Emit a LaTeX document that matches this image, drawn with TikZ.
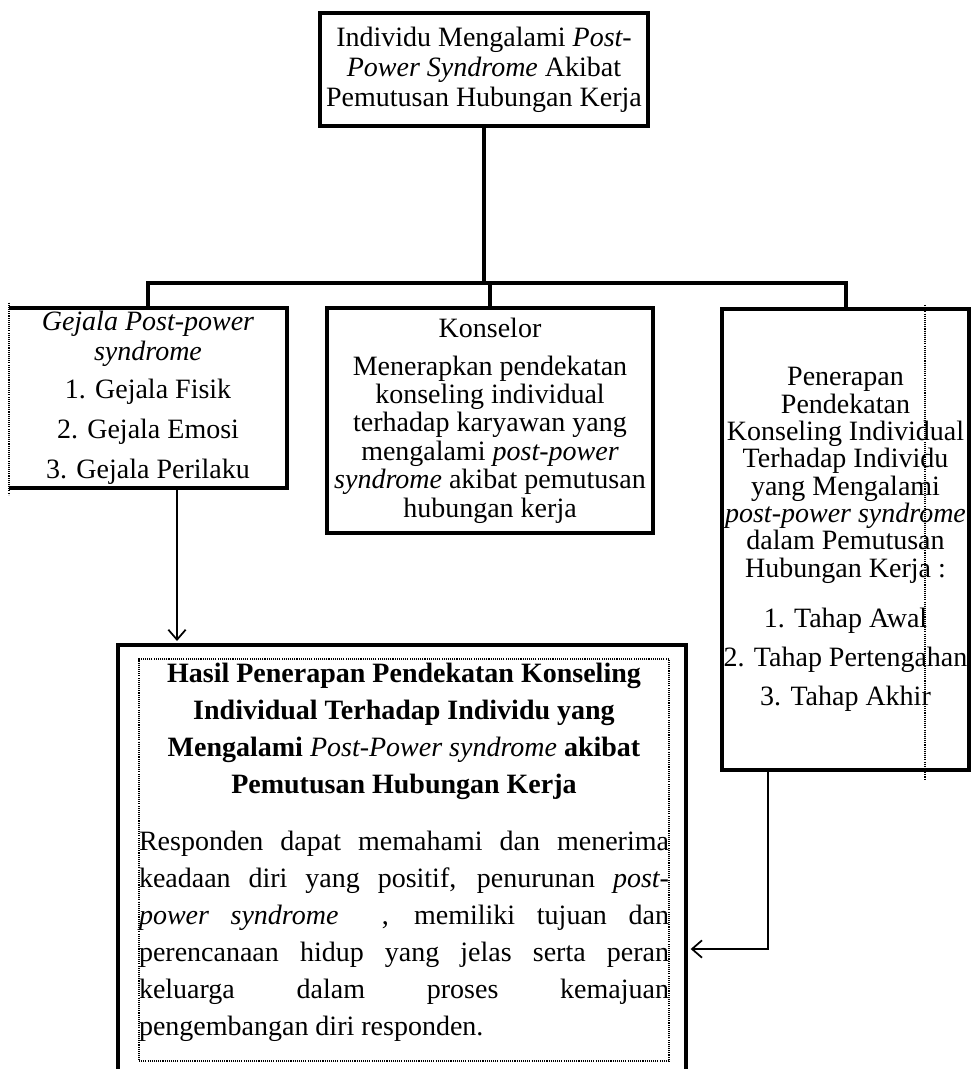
\documentclass[tikz,border=0pt]{standalone}
\usepackage{fontspec}
\setmainfont{Liberation Serif}
\usetikzlibrary{arrows.meta,positioning}

\begin{document}
\begin{tikzpicture}[x=0.75pt,y=-0.75pt,
  box/.style={draw, line width=3pt, align=center, inner sep=0pt, font=\fontsize{21}{22.5}\selectfont},
  trunk/.style={line width=3pt},
  link/.style={line width=1.3pt, -{Straight Barb[length=7.5pt,width=13pt]}},
  dots/.style={line width=0.8pt, dash pattern=on 0.8pt off 0.8pt}]
\useasboundingbox (0,0) rectangle (973,1069);
\clip (0,0) rectangle (973,1069);

\node[box, minimum width=246pt, minimum height=84.75pt] (korban) at (484,69.5)
  {Individu Mengalami \textit{Post-}\\\textit{Power Syndrome} Akibat\\Pemutusan Hubungan Kerja};

\node[box, draw=none, minimum width=205.5pt, minimum height=132pt] (gejala) at (148,398)
  {\textit{Gejala Post-power}\\\textit{syndrome}\\[6pt]1. Gejala Fisik\\[7.5pt]2. Gejala Emosi\\[7.5pt]3. Gejala Perilaku};
\draw[trunk] (gejala.south west) -- (gejala.south east) -- (gejala.north east) -- (gejala.north west);
\draw[dots] ([yshift=4pt]gejala.north west) -- ([yshift=-5pt]gejala.south west);

\node[box, minimum width=244.5pt, minimum height=168.75pt, font=\fontsize{21}{21.3}\selectfont] (konselor) at (490,420.5)
  {Konselor\\[7pt]Menerapkan pendekatan\\konseling individual\\terhadap karyawan yang\\mengalami \textit{post-power}\\\textit{syndrome} akibat pemutusan\\hubungan\ kerja};

\node[box, minimum width=185.25pt, minimum height=345.75pt, font=\fontsize{21}{20.5}\selectfont] (penerapan) at (845.5,539.5)
  {Penerapan\\Pendekatan\\Konseling Individual\\Terhadap Individu\\yang Mengalami\\\textit{post-power syndrome}\\dalam Pemutusan\\Hubungan\ Kerja :\\[17pt]1. Tahap Awal\\[9pt]2. Tahap Pertengahan\\[9pt]3. Tahap Akhir};
\draw[dots] (925,305) -- (925,780);

\node[draw, line width=3pt, minimum width=426pt, minimum height=456pt] (hasilbox) at (402,949) {};
\node[dots, draw, text width=397.5pt, align=justify, inner sep=0pt, minimum height=301.5pt,
  font=\fontsize{21}{27.75}\selectfont] (hasil) at (404,860)
  {{\centering\bfseries Hasil Penerapan Pendekatan Konseling\\Individual Terhadap Individu yang\\Mengalami {\mdseries\itshape Post-Power syndrome} akibat\\Pemutusan Hubungan Kerja\par}
   \vspace{15pt}
   \tolerance=10000 \hbadness=10000
   Responden dapat memahami dan menerima\linebreak
   keadaan diri yang positif, penurunan \textit{post-}\linebreak
   \textit{power syndrome}\ \ , memiliki tujuan dan\linebreak
   perencanaan hidup yang jelas serta peran\linebreak
   keluarga dalam proses kemajuan\linebreak
   pengembangan diri responden.\par
   \vspace{11pt}\nointerlineskip\hbox{}};

\coordinate (cabang) at (484,283);
\draw[trunk] (korban.south) -- (cabang);
\draw[trunk] (cabang) -| (gejala.north);
\draw[trunk] (cabang) -| (penerapan.north);
\draw[trunk] (cabang -| konselor.north) -- (konselor.north);

\coordinate (turun) at (177,0);
\draw[link, shorten >=1.5pt] (gejala.south -| turun) -- (hasilbox.north -| turun);
\coordinate (siku) at (768,949);
\draw[link, shorten >=2pt] (penerapan.south -| siku) -- (siku) -- (hasilbox.east);
\end{tikzpicture}
\end{document}
